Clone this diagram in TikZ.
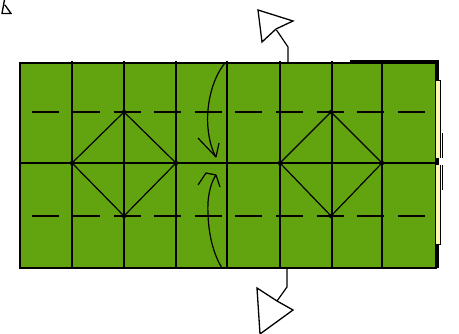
\documentclass[tikz,border=0pt]{standalone}
\definecolor{paper}{RGB}{98,164,16}
\definecolor{paleyel}{RGB}{255,248,175}
\tikzset{
  fold/.style={line width=1.7pt},
  diag/.style={line width=1.2pt},
  dashfold/.style={line width=1.8pt, dash pattern=on 27pt off 13.6pt},
  arr/.style={line width=1.2pt, line join=round},
  hollow/.style={line width=1.3pt, fill=white, line join=miter},
  dot/.style={fill=black}
}
\begin{document}
\begin{tikzpicture}[x=1pt,y=-1pt]
\useasboundingbox (0,0) rectangle (459,334);
% paper
\fill[paper] (20,63) rectangle (436,268);
% verticals
\foreach \x in {72,124,176,227,280,332,382}
  \draw[fold] (\x,61) -- (\x,268);
% middle horizontal
\draw[fold] (20,163) -- (436,163);
% dashed lines
\draw[dashfold] (32.4,112) -- (436,112);
\draw[dashfold] (32.4,216) -- (436,216);
% diamonds
\draw[diag] (72,163) -- (124,112) -- (176,163) -- (124,216) -- cycle;
\draw[diag] (280,163) -- (331,112) -- (382,163) -- (331,216) -- cycle;
\foreach \p in {(72,163),(124,112),(176,163),(124,216),(280,163),(331,112),(382,163),(331,216)}
  \fill[dot] \p circle (2.2);
% outline
\draw[line width=1.4pt] (20,63) rectangle (436,268);
\draw[line width=3pt] (350,62) -- (437.5,62) -- (437.5,268);
% right edge layers
\fill[paleyel] (436,80) rectangle (441,158);
\fill[paleyel] (436,165) rectangle (441,244);
\draw[line width=0.8pt] (436,80) -- (440.5,80) -- (440.5,158);
\draw[line width=0.8pt] (440.5,165) -- (440.5,244) -- (436,244);
\draw[line width=1.6pt] (442.5,133) -- (442.5,158);
\draw[line width=1.6pt] (442.5,165) -- (442.5,190);
% middle curved arrows
\draw[arr] (225,63) .. controls (211,80) and (206,108) .. (208,128)
  .. controls (209,140) and (212,150) .. (216,157);
\draw[arr] (216,157) -- (198,138);
\draw[arr] (216,157) -- (219,143);
\draw[arr] (222,268) .. controls (212,252) and (207,228) .. (208,202)
  .. controls (209,190) and (212,181) .. (216,175);
\draw[arr] (216,175) -- (206,173) -- (198,185);
\draw[arr] (216,175) -- (220,187);
% top hollow arrow
\draw[arr] (288,63) -- (288,47) -- (276.5,30);
\draw[hollow] (258,10) -- (293,21) -- (276,29) -- (262,42) -- cycle;
% bottom hollow arrow
\draw[arr] (287,268) -- (287,287) -- (277,301);
\draw[hollow] (257,288) -- (277,301) -- (293,310) -- (260,334) -- cycle;
% corner fragment
\draw[hollow] (5,-3) -- (2,13.5) -- (11,13.5) -- (5,5);
\end{tikzpicture}
\end{document}
